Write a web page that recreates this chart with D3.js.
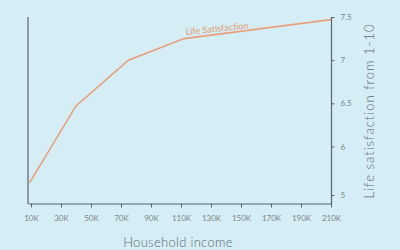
<!DOCTYPE html>
<meta charset="utf-8">
<script src="https://d3js.org/d3.v7.min.js"></script>
<style>
  body { margin: 0; background: #d5edf4; }
  svg { display: block; }
  .tick text { font-family: Lato, sans-serif; font-size: 8px; fill: #7c858b; }
</style>
<div id="my_dataviz"></div>
<script>

// data
var incomes = [9000, 40000, 75000, 112000, 210000];
var satisfaction = [5.25, 6.47, 7.0, 7.25, 7.47];
var xTicks = [10000, 30000, 50000, 70000, 90000, 110000, 130000, 150000, 170000, 190000, 210000];
var yTicks = [5, 6, 6.5, 7, 7.5];

var width = 400, height = 250;

var svg = d3.select("#my_dataviz")
  .append("svg")
    .attr("width", width)
    .attr("height", height);

svg.append("rect")
  .attr("width", width)
  .attr("height", height)
  .attr("fill", "#d5edf4");

// x axis
var x = d3.scaleLinear()
  .domain([8000, 210000])
  .range([28, 331]);

// y axis: the "5" tick sits on a shortened stretch at the bottom
var y = d3.scaleLinear()
  .domain([5, 6, 7.5])
  .range([195, 146.5, 17]);

var axisColor = "#58646d";

var xAxis = svg.append("g")
  .attr("transform", "translate(0,203.5)")
  .call(d3.axisBottom(x)
    .tickValues(xTicks)
    .tickSize(4)
    .tickSizeOuter(0)
    .tickPadding(8)
    .tickFormat(function(d) { return (d / 1000) + "K"; }));
xAxis.select(".domain").attr("stroke", axisColor).attr("stroke-width", 1.2);
xAxis.selectAll(".tick line").attr("stroke", axisColor);

var yAxis = svg.append("g")
  .attr("transform", "translate(331.5,0)")
  .call(d3.axisRight(y)
    .tickValues(yTicks)
    .tickSize(3)
    .tickSizeOuter(0)
    .tickPadding(6)
    .tickFormat(function(d) { return d; }));
yAxis.select(".domain").attr("stroke", axisColor).attr("stroke-width", 1.2)
  .attr("d", "M0," + y(7.5) + "V204");
yAxis.selectAll(".tick line").attr("stroke", axisColor);

// left frame line
svg.append("line")
  .attr("x1", x(8000)).attr("x2", x(8000))
  .attr("y1", y(7.5)).attr("y2", 204)
  .attr("stroke", axisColor)
  .attr("stroke-width", 1.2);

// the line
var pts = incomes.map(function(d, i) { return [d, satisfaction[i]]; });
svg.append("path")
  .datum(pts)
  .attr("fill", "none")
  .attr("stroke", "#e9a07c")
  .attr("stroke-width", 1.6)
  .attr("d", d3.line()
    .x(function(d) { return x(d[0]); })
    .y(function(d) { return y(d[1]); }));

// series label
svg.append("text")
  .attr("transform", "translate(186,35) rotate(-6)")
  .attr("font-family", "Lato, sans-serif")
  .attr("font-size", 9)
  .attr("fill", "#e39a72")
  .text("Life Satisfaction");

// axis titles
svg.append("text")
  .attr("x", 178)
  .attr("y", 247)
  .attr("text-anchor", "middle")
  .attr("font-family", "Lato, sans-serif")
  .attr("font-weight", 300)
  .attr("font-size", 13)
  .attr("letter-spacing", 0.3)
  .attr("fill", "#626b72")
  .text("Household income");

svg.append("text")
  .attr("transform", "translate(374,111) rotate(-90)")
  .attr("text-anchor", "middle")
  .attr("font-family", "Lato, sans-serif")
  .attr("font-weight", 300)
  .attr("font-size", 13)
  .attr("letter-spacing", 1)
  .attr("fill", "#626b72")
  .text("Life satisfaction from 1-10");

</script>
